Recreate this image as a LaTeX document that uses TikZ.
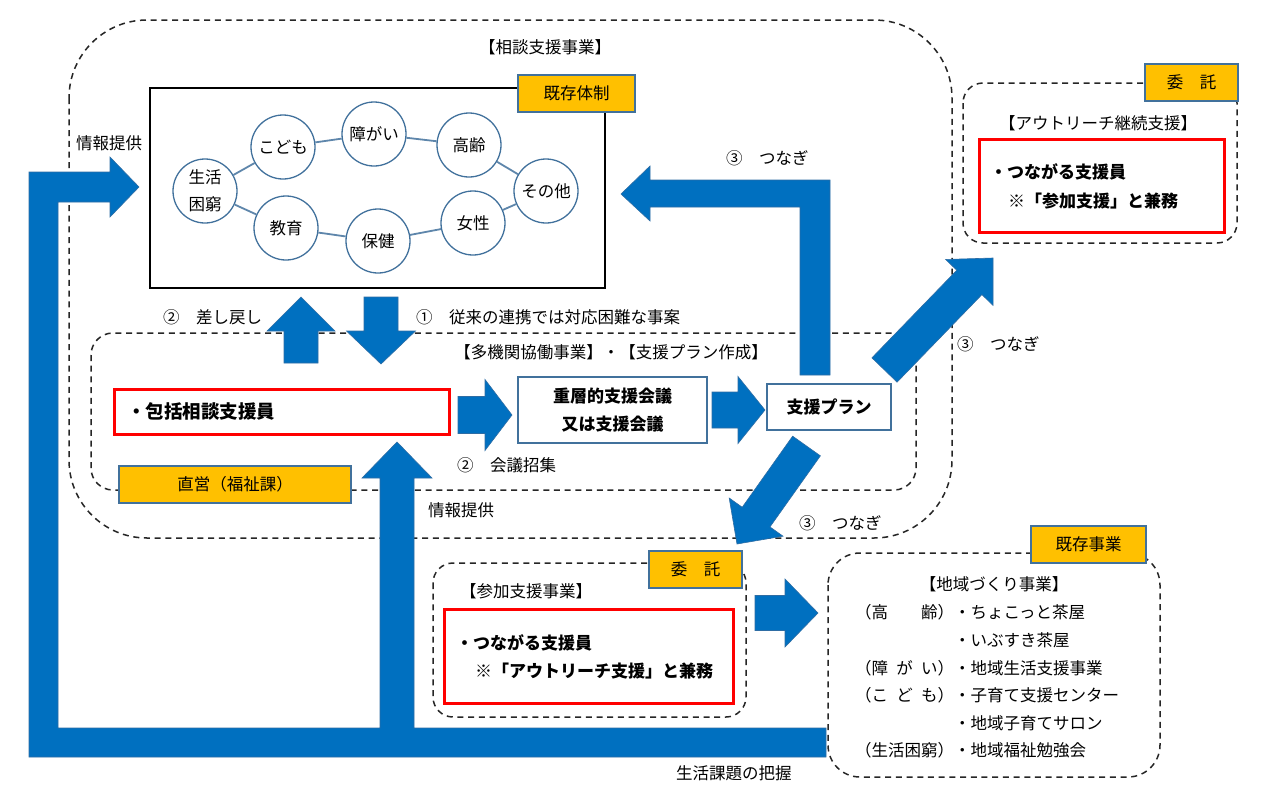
\documentclass[tikz,border=0pt]{standalone}
\usepackage{fontspec}
\setmainfont{Noto Sans CJK JP}
\usetikzlibrary{calc}
\definecolor{abl}{HTML}{0070C0}
\definecolor{abd}{HTML}{2E6DA4}
\definecolor{tagy}{HTML}{FFC000}
\definecolor{sbl}{HTML}{41719C}
\definecolor{rbx}{HTML}{FF0000}
\definecolor{dgr}{HTML}{262626}
\newcommand\fsR{\fontsize{16.5}{27}\selectfont}
\newcommand\fsB{\fontsize{17}{28.5}\selectfont\bfseries}
\newcommand\blockarrow[5]{%
  \coordinate (bah) at ($(#2)!#5!(#1)$);
  \filldraw[fill=abl,draw=abd,line width=0.6pt] ($(#1)!#3!90:(#2)$) -- ($(bah)!#3!90:(#2)$) -- ($(bah)!#4!90:(#2)$) -- (#2) -- ($(bah)!#4!-90:(#2)$) -- ($(bah)!#3!-90:(#2)$) -- ($(#1)!#3!-90:(#2)$) -- cycle;}
\tikzset{
  dbox/.style={draw=dgr,line width=1.5pt,dash pattern=on 6pt off 4.7pt},
  tag/.style={draw=sbl,line width=1.8pt,fill=tagy,inner sep=0pt,font=\fsR},
  circ/.style={circle,draw=sbl,line width=1.3pt,fill=white,minimum size=64pt,inner sep=0pt,align=center,font=\fsR},
  cline/.style={draw=sbl!85!white,line width=1.8pt},
  redbox/.style={draw=rbx,line width=3pt,fill=white,inner sep=0pt},
  bbox/.style={draw=sbl,line width=1.8pt,fill=white,inner sep=0pt},
  lbl/.style={inner sep=0pt,font=\fsR},
  bld/.style={inner sep=0pt,font=\fsB},
  blue shape/.style={fill=abl,draw=abd,line width=0.6pt}
}
\begin{document}
\begin{tikzpicture}[x=1pt,y=-1pt]
\useasboundingbox (0,0) rectangle (1275,798);
\fill[white] (0,0) rectangle (1275,798);
% dashed frames
\draw[dbox,rounded corners=78pt] (69,20) rectangle (952,538);
\draw[dbox,rounded corners=22pt] (91,333) rectangle (916,490);
\draw[dbox,rounded corners=20pt] (963,83) rectangle (1237,243);
\draw[dbox,rounded corners=20pt] (433,563) rectangle (746,717);
\draw[dbox,rounded corners=32pt] (828,553) rectangle (1160,777);
% existing system box
\node[draw=black,line width=2pt,fill=white,minimum width=455pt,minimum height=200pt,inner sep=0pt] (kb) at (377.5,188) {};
\node[tag,minimum width=117pt,minimum height=37pt] (kt) at (576.5,93.5) {既存体制};
% circles
\node[circ] (c1) at (205,191) {生活\\困窮};
\node[circ] (c2) at (283,147) {こども};
\node[circ] (c3) at (374,134) {障がい};
\node[circ] (c4) at (469,145) {高齢};
\node[circ] (c5) at (546,191) {その他};
\node[circ] (c6) at (473,223) {女性};
\node[circ] (c7) at (378,241) {保健};
\node[circ] (c8) at (286,228) {教育};
\foreach \a/\b in {c1/c2,c2/c3,c3/c4,c4/c5,c5/c6,c6/c7,c7/c8,c8/c1} \draw[cline] (\a) -- (\b);
% titles and labels
\node[lbl] (t1) at (545,47) {【相談支援事業】};
\node[lbl] (l1) at (109,143) {情報提供};
\node[lbl,anchor=west] (l2) at (726,158) {③\quad つなぎ};
\node[lbl,anchor=west] (l3) at (163,317) {②\quad 差し戻し};
\node[lbl,anchor=west] (l4) at (416,317) {①\quad 従来の連携では対応困難な事案};
\node[lbl] (t2) at (611,352) {【多機関協働事業】・【支援プラン作成】};
\node[lbl,anchor=west] (l5) at (957,344) {③\quad つなぎ};
\node[lbl,anchor=west] (l6) at (457,465) {②\quad 会議招集};
\node[lbl,anchor=west] (l7) at (428,510) {情報提供};
\node[lbl,anchor=west] (l8) at (799,523) {③\quad つなぎ};
\node[lbl,anchor=west] (l9) at (676,773) {生活課題の把握};
% boxes in the multi-agency frame
\node[redbox,minimum width=335pt,minimum height=45pt] (hk) at (281.5,411.5) {};
\node[bld,anchor=west,font=\fontsize{18.5}{22}\selectfont\bfseries] (hkt) at (127,411) {・包括相談支援員};
\node[bbox,minimum width=189pt,minimum height=66pt,font=\fsB,align=center] (jk) at (612.5,410) {重層的支援会議\\又は支援会議};
\node[bbox,minimum width=124pt,minimum height=46pt,font=\fsB] (sp) at (829,407) {支援プラン};
\node[tag,minimum width=232pt,minimum height=37pt] (cy) at (235,484.5) {直営（福祉課）};
% outreach
\node[tag,minimum width=93pt,minimum height=37pt] (it1) at (1191.5,82.5) {委　託};
\node[lbl] (t3) at (1098,123) {【アウトリーチ継続支援】};
\node[redbox,minimum width=245pt,minimum height=93pt] (ro) at (1101.5,185.5) {};
\node[bld,anchor=west] (ro1) at (990,172) {・つながる支援員};
\node[bld,anchor=west] (ro2) at (1008,201) {※「参加支援」と兼務};
% participation
\node[tag,minimum width=93pt,minimum height=37pt] (it2) at (695.5,569.5) {委　託};
\node[lbl] (t4) at (526,591) {【参加支援事業】};
\node[redbox,minimum width=289pt,minimum height=94pt] (rs) at (588.5,656) {};
\node[bld,anchor=west] (rs1) at (456,643) {・つながる支援員};
\node[bld,anchor=west] (rs2) at (475,671) {※「アウトリーチ支援」と兼務};
% community
\node[tag,minimum width=115pt,minimum height=37pt] (kj) at (1088.5,544.5) {既存事業};
\node[lbl] (t5) at (994,584) {【地域づくり事業】};
\node[lbl,anchor=west] (r1) at (855,612) {（\makebox[4em]{高\hfill 齢}）・ちょこっと茶屋};
\node[lbl,anchor=west] (r2) at (855,640) {\phantom{（\makebox[4em]{}）}・いぶすき茶屋};
\node[lbl,anchor=west] (r3) at (855,668) {（\makebox[4em]{障\hfill が\hfill い}）・地域生活支援事業};
\node[lbl,anchor=west] (r4) at (855,695) {（\makebox[4em]{こ\hfill ど\hfill も}）・子育て支援センター};
\node[lbl,anchor=west] (r5) at (855,723) {\phantom{（\makebox[4em]{}）}・地域子育てサロン};
\node[lbl,anchor=west] (r6) at (855,750) {（\makebox[4em]{生活困窮}）・地域福祉勉強会};
% block arrows
\coordinate (a1s) at (458,415); \coordinate (a1t) at (512,415);
\coordinate (a2s) at (712,410); \coordinate (a2t) at (765,410);
\coordinate (a3s) at (301,363); \coordinate (a3t) at (301,297);
\coordinate (a4s) at (381,297); \coordinate (a4t) at (381,364);
\coordinate (a5s) at (884.5,370); \coordinate (a5t) at (993,258);
\coordinate (a6s) at (806.5,446); \coordinate (a6t) at (737,544);
\coordinate (a7s) at (755,613); \coordinate (a7t) at (818,613);
\blockarrow{a1s}{a1t}{18.5pt}{35.5pt}{27pt}
\blockarrow{a2s}{a2t}{18pt}{33.5pt}{27pt}
\blockarrow{a3s}{a3t}{17pt}{34pt}{34pt}
\blockarrow{a4s}{a4t}{17pt}{34.5pt}{33pt}
\blockarrow{a5s}{a5t}{17.5pt}{33pt}{34pt}
\blockarrow{a6s}{a6t}{17pt}{33pt}{33pt}
\blockarrow{a7s}{a7t}{17.5pt}{34pt}{33pt}
% L-shaped arrow (3) connect
\filldraw[blue shape] (800,375) -- (830,375) -- (830,180) -- (650,180) -- (650,166) -- (621,194) -- (650,221) -- (650,207) -- (800,207) -- cycle;
% big feedback arrow
\filldraw[blue shape] (29,757) -- (826,757) -- (826,728) -- (414,728) -- (414,478) -- (432,478) -- (397,442) -- (362,478) -- (380,478) -- (380,728) -- (58,728) -- (58,202) -- (110,202) -- (110,217) -- (139,187) -- (110,157) -- (110,172) -- (29,172) -- cycle;
\end{tikzpicture}
\end{document}
